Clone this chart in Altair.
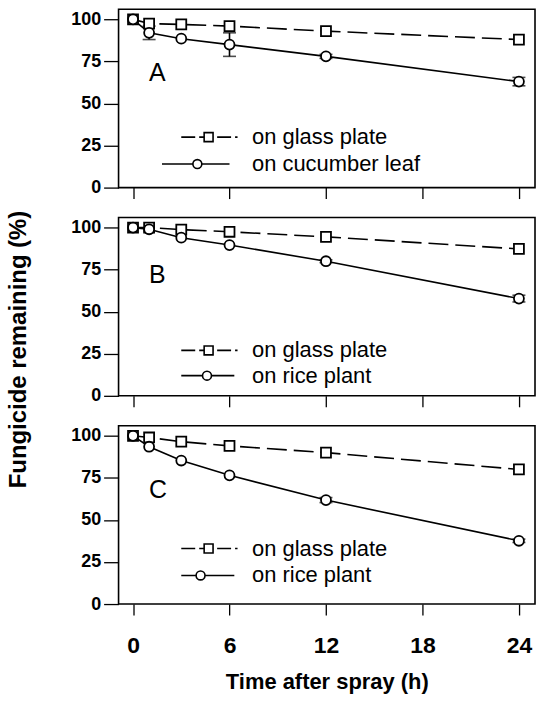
import altair as alt
import pandas as pd

# ---------------- data ----------------
TIME = [0, 1, 3, 6, 12, 24]

A_GLASS = [100, 97.5, 97, 96, 93, 88]
A_LEAF = [100, 92, 88.5, 85, 78, 63]
A_LEAF_ERR = [0, 4, 0, 7, 1.2, 2.5]

B_GLASS = [100, 100, 98.8, 97.5, 94.5, 87.3]
B_RICE = [100, 99, 94, 89.6, 80, 57.8]
B_RICE_ERR = [0, 0, 0, 0, 0.8, 2]

C_GLASS = [100, 99, 96.5, 94, 90, 80]
C_RICE = [100, 93.5, 85.3, 76.5, 61.8, 37.6]
C_RICE_ERR = [0, 0, 0, 0, 1.5, 1]

PANEL_LETTERS = ["A", "B", "C"]
GLASS_LABEL = "on glass plate"
OTHER_LABELS = ["on cucumber leaf", "on rice plant", "on rice plant"]

X_TICKS = [0, 6, 12, 18, 24]
Y_TICKS = [0, 25, 50, 75, 100]

# ---------------- layout / style ----------------
FONT = "Liberation Sans"
X_DOMAIN = [-0.9, 25]
Y_DOMAIN = [0, 106]
PANEL_W = 418
PANEL_H = 179
LETTER_POS = [(1.0, 68), (1.0, 72), (1.0, 68)]   # data units
LEG_TEXT_X = 7.4
LEG_Y = [(30, 14), (27, 12), (33, 17)]
LEG_GLASS_LINE = (3.0, 6.5, 4.7)
LEG_OTHER_LINE = [(1.8, 6.0, 4.0), (3.0, 6.3, 4.6), (3.0, 6.3, 4.2)]
DASH = [20, 7]
LW = 1.6
MSIZE = 100


def panel(i, glass, other, other_err):
    df_g = pd.DataFrame({"t": TIME, "v": glass})
    df_o = pd.DataFrame({"t": TIME, "v": other, "e": other_err})
    df_o["lo"] = df_o["v"] - df_o["e"]
    df_o["hi"] = df_o["v"] + df_o["e"]
    df_e = df_o[df_o["e"] > 0]

    bottom = i == 2
    if bottom:
        x_axis = alt.Axis(values=X_TICKS, title="Time after spray (h)", tickSize=11,
                          labelFontSize=23, labelPadding=20, titleFontSize=22, titlePadding=14)
    else:
        x_axis = alt.Axis(values=X_TICKS, labels=False, title=None, tickSize=11)
    if i == 1:
        y_axis = alt.Axis(values=Y_TICKS, title="Fungicide remaining (%)", tickSize=15,
                          labelFontSize=18, labelPadding=3, titleFontSize=24,
                          titleX=-88, titleY=132)
    else:
        y_axis = alt.Axis(values=Y_TICKS, title=None, tickSize=15, labelFontSize=18, labelPadding=3)
    xs = alt.Scale(domain=X_DOMAIN, nice=False, zero=False)
    ys = alt.Scale(domain=Y_DOMAIN, nice=False)

    def X(f):
        return alt.X(f, type="quantitative", scale=xs, axis=x_axis)

    def Y(f):
        return alt.Y(f, type="quantitative", scale=ys, axis=y_axis)

    line_g = alt.Chart(df_g).mark_line(color="black", strokeWidth=LW, strokeDash=DASH).encode(x=X("t"), y=Y("v"))
    line_o = alt.Chart(df_o).mark_line(color="black", strokeWidth=LW).encode(x=X("t"), y=Y("v"))
    err = alt.Chart(df_e).mark_rule(color="black", strokeWidth=LW).encode(x=X("t"), y=Y("lo"), y2="hi:Q")
    cap_lo = alt.Chart(df_e).mark_tick(color="black", thickness=LW, size=13, orient="horizontal").encode(
        x=X("t"), y=Y("lo"))
    cap_hi = alt.Chart(df_e).mark_tick(color="black", thickness=LW, size=13, orient="horizontal").encode(
        x=X("t"), y=Y("hi"))
    pts_g = alt.Chart(df_g).mark_point(shape="square", filled=True, fill="white", stroke="black",
                                       strokeWidth=LW + 0.2, size=MSIZE, opacity=1).encode(x=X("t"), y=Y("v"))
    pts_o = alt.Chart(df_o).mark_point(shape="circle", filled=True, fill="white", stroke="black",
                                       strokeWidth=LW + 0.2, size=MSIZE, opacity=1).encode(x=X("t"), y=Y("v"))

    lx, ly = LETTER_POS[i]
    letter = alt.Chart(pd.DataFrame({"t": [lx], "v": [ly], "s": [PANEL_LETTERS[i]]})).mark_text(
        font=FONT, fontSize=25, align="left", baseline="middle", color="black"
    ).encode(x=X("t"), y=Y("v"), text="s:N")

    gy, oy = LEG_Y[i]
    gx0, gx1, gm = LEG_GLASS_LINE
    ox0, ox1, om = LEG_OTHER_LINE[i]
    leg = pd.DataFrame({
        "x0": [gx0, ox0], "x1": [gx1, ox1], "xm": [gm, om], "v": [gy, oy],
        "tx": [LEG_TEXT_X, LEG_TEXT_X], "label": [GLASS_LABEL, OTHER_LABELS[i]],
        "kind": ["glass", "other"],
    })
    leg_g = leg[leg.kind == "glass"]
    leg_o = leg[leg.kind == "other"]
    lr_g = alt.Chart(leg_g).mark_rule(color="black", strokeWidth=LW, strokeDash=[14, 4]).encode(
        x=X("x0"), x2="x1:Q", y=Y("v"))
    lr_o = alt.Chart(leg_o).mark_rule(color="black", strokeWidth=LW).encode(
        x=X("x0"), x2="x1:Q", y=Y("v"))
    lp_g = alt.Chart(leg_g).mark_point(shape="square", filled=True, fill="white", stroke="black",
                                       strokeWidth=LW, size=MSIZE * 0.8, opacity=1).encode(x=X("xm"), y=Y("v"))
    lp_o = alt.Chart(leg_o).mark_point(shape="circle", filled=True, fill="white", stroke="black",
                                       strokeWidth=LW, size=MSIZE * 0.8, opacity=1).encode(x=X("xm"), y=Y("v"))
    lt = alt.Chart(leg).mark_text(font=FONT, fontSize=22, align="left", baseline="middle", color="black").encode(
        x=X("tx"), y=Y("v"), text="label:N")

    return alt.layer(line_g, line_o, err, cap_lo, cap_hi, pts_g, pts_o, letter,
                     lr_g, lr_o, lp_g, lp_o, lt).properties(width=PANEL_W, height=PANEL_H)


chart = alt.vconcat(
    panel(0, A_GLASS, A_LEAF, A_LEAF_ERR),
    panel(1, B_GLASS, B_RICE, B_RICE_ERR),
    panel(2, C_GLASS, C_RICE, C_RICE_ERR),
    spacing=30,
    bounds="flush",
).properties(
    padding={"top": 7, "left": 6, "right": 1, "bottom": 2},
    background="white",
).configure_view(
    stroke="black", strokeWidth=LW
).configure_axis(
    domain=False,
    tickColor="black",
    tickWidth=1.3,
    labelFont=FONT,
    labelFontWeight="bold",
    labelColor="black",
    titleFont=FONT,
    titleFontWeight="bold",
    titleColor="black",
    grid=False,
)

chart.save("out.html", embed_options={"renderer": "svg", "actions": False})
